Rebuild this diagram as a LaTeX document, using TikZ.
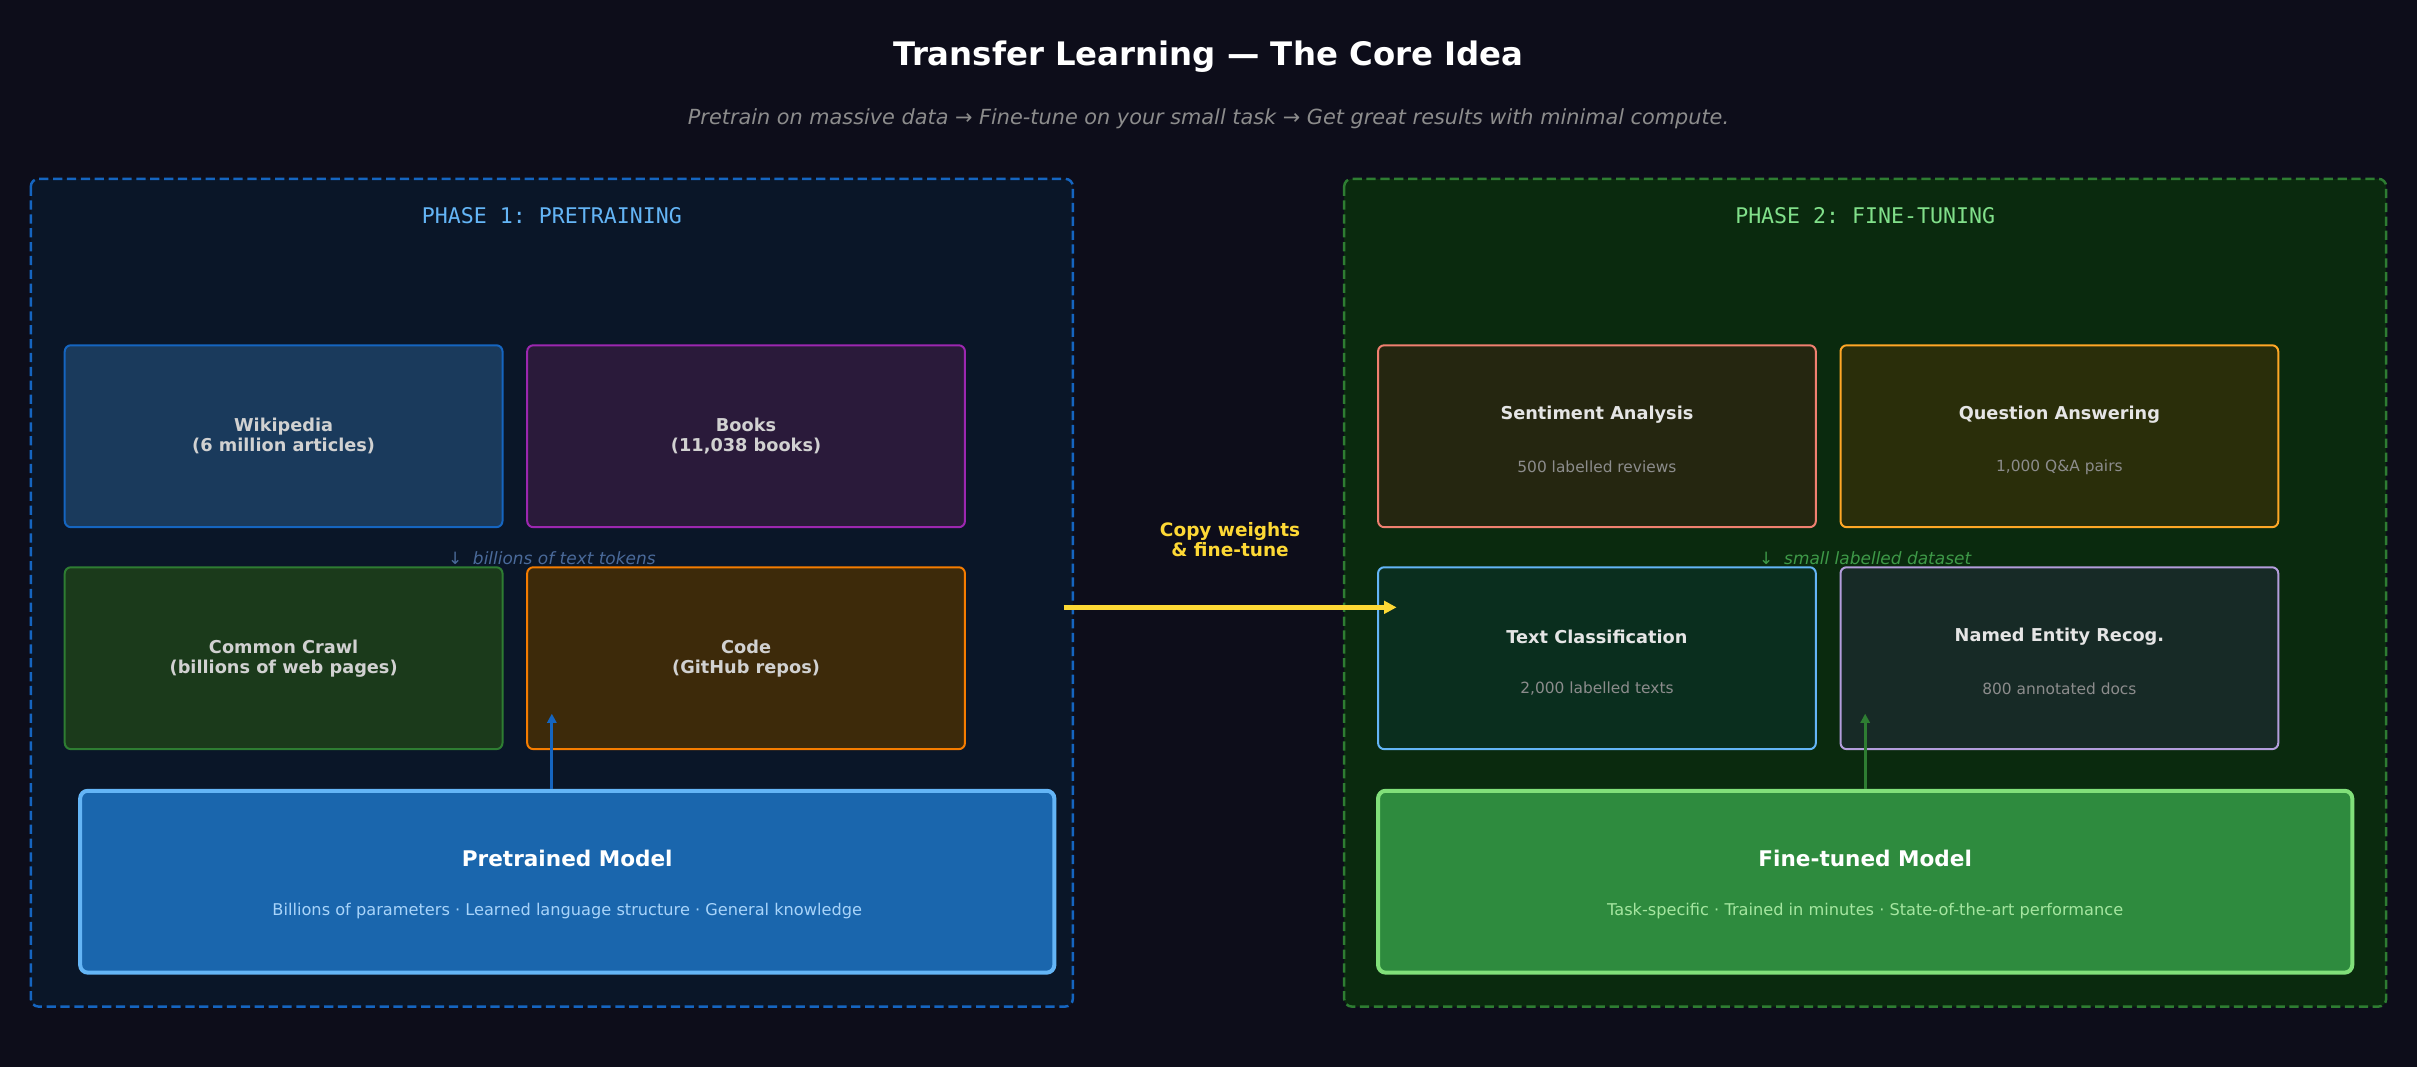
\documentclass[tikz,border=0pt]{standalone}
\usepackage{fontspec}
\setmainfont{DejaVu Sans}
\setmonofont{DejaVu Sans Mono}
\usetikzlibrary{arrows.meta}
\definecolor{bg}{HTML}{0D0D1A}
\definecolor{pfill}{HTML}{0A1628}
\definecolor{gfill}{HTML}{0A2A0E}
\definecolor{pblue}{HTML}{1565C0}
\definecolor{wikifill}{HTML}{1A3A5C}
\tikzset{every picture/.style={line width=0.75pt}}
\tikzset{
  panel/.style={draw, line width=1.6pt, rounded corners=5pt, dash pattern=on 6pt off 3pt},
  src/.style={draw, line width=1.3pt, rounded corners=4pt, minimum width=284pt, minimum height=118pt, align=center, text=black!18, font=\bfseries\fontsize{11.5}{13}\selectfont},
  model/.style={draw, line width=2.6pt, rounded corners=5pt, minimum width=632pt, minimum height=118pt},
  ttl/.style={font=\bfseries\fontsize{11.5}{13}\selectfont, text=black!10},
  sub/.style={font=\fontsize{10}{12}\selectfont, text=black!45},
}
\begin{document}
\begin{tikzpicture}[x=1pt,y=1pt,yscale=-1]
\useasboundingbox[fill=bg] (0,0) rectangle (1568,692);

% Title
\node (title) at (784,37) {\color{white}\bfseries\fontsize{21}{24}\selectfont Transfer Learning — The Core Idea};
\node (subtitle) at (784,77) {\color{black!45}\itshape\fontsize{13.5}{16}\selectfont Pretrain on massive data → Fine-tune on your small task → Get great results with minimal compute.};

% Phase 1
\draw[panel, draw=pblue, fill=pfill] (20,116) rectangle (696,653);
\node (p1title) at (358,140) {\color[HTML]{64B5F6}\ttfamily\fontsize{14}{16}\selectfont PHASE 1: PRETRAINING};
\node[src, draw=pblue, fill=wikifill] (wiki) at (184,283) {Wikipedia\\(6 million articles)};
\node[src, draw={rgb,255:red,156;green,39;blue,176}, fill={rgb,255:red,42;green,26;blue,58}] (books) at (484,283) {Books\\(11,038 books)};
\node[src, draw={rgb,255:red,46;green,125;blue,50}, fill={rgb,255:red,27;green,58;blue,27}] (crawl) at (184,427) {Common Crawl\\(billions of web pages)};
\node[src, draw={rgb,255:red,245;green,124;blue,0}, fill={rgb,255:red,61;green,42;blue,10}] (code) at (484,427) {Code\\(GitHub repos)};
\node (tokens) at (358,362) {\color[HTML]{4A6A9A}\itshape\fontsize{11}{13}\selectfont ↓\ \ billions of text tokens};
\node[model, draw={rgb,255:red,100;green,181;blue,246}, fill={rgb,255:red,26;green,102;blue,173}] (pretrained) at (368,572) {};
\node (pretitle) at (368,557) {\color{white}\bfseries\fontsize{14}{16}\selectfont Pretrained Model};
\node (presub) at (368,591) {\color[HTML]{A8D4FA}\fontsize{10.5}{12}\selectfont Billions of parameters · Learned language structure · General knowledge};
\coordinate (uptip1) at (358,463);
\draw[-{Triangle[length=6pt,width=6pt]}, line width=2pt, draw=pblue] (pretrained.north -| uptip1) -- (uptip1);

% Phase 2
\draw[panel, draw={rgb,255:red,46;green,125;blue,50}, fill=gfill] (872,116) rectangle (1548,653);
\node (p2title) at (1210,140) {\color[HTML]{81E08A}\ttfamily\fontsize{14}{16}\selectfont PHASE 2: FINE-TUNING};
\node[src, draw={rgb,255:red,240;green,128;blue,112}, fill={rgb,255:red,37;green,38;blue,16}] (senti) at (1036,283) {};
\node[ttl] (sentit) at (1036,269) {Sentiment Analysis};
\node[sub] (sentis) at (1036,303) {500 labelled reviews};
\node[src, draw={rgb,255:red,255;green,167;blue,38}, fill={rgb,255:red,42;green,46;blue,10}] (qa) at (1336,283) {};
\node[ttl] (qat) at (1336,269) {Question Answering};
\node[sub] (qas) at (1336,303) {1,000 Q\&A pairs};
\node[src, draw={rgb,255:red,100;green,181;blue,246}, fill={rgb,255:red,10;green,46;blue,30}] (textcls) at (1036,427) {};
\node[ttl] (textclst) at (1036,413) {Text Classification};
\node[sub] (textclss) at (1036,447) {2,000 labelled texts};
\node[src, draw={rgb,255:red,179;green,157;blue,219}, fill={rgb,255:red,23;green,42;blue,38}] (ner) at (1336,427) {};
\node[ttl] (nert) at (1336,413) {Named Entity Recog.};
\node[sub] (ners) at (1336,447) {800 annotated docs};
\node (dataset) at (1210,362) {\color[HTML]{3E9A48}\itshape\fontsize{11}{13}\selectfont ↓\ \ small labelled dataset};
\node[model, draw={rgb,255:red,129;green,224;blue,122}, fill={rgb,255:red,46;green,139;blue,62}] (finetuned) at (1210,572) {};
\node (fttitle) at (1210,557) {\color{white}\bfseries\fontsize{14}{16}\selectfont Fine-tuned Model};
\node (ftsub) at (1210,591) {\color[HTML]{A5E6A0}\fontsize{10.5}{12}\selectfont Task-specific · Trained in minutes · State-of-the-art performance};
\coordinate (uptip2) at (1210,463);
\draw[-{Triangle[length=6pt,width=6pt]}, line width=2pt, draw={rgb,255:red,46;green,125;blue,50}] (finetuned.north -| uptip2) -- (uptip2);

% Transfer arrow
\coordinate (copyfrom) at (690,394);
\coordinate (copyto) at (906,394);
\draw[-{Triangle[length=8pt,width=8pt]}, line width=3pt, draw={rgb,255:red,253;green,216;blue,53}] (copyfrom) -- (copyto);
\node[align=center, font=\bfseries\fontsize{12}{13}\selectfont, text={rgb,255:red,253;green,216;blue,53}] (copylbl) at (798,350) {Copy weights\\\& fine-tune};
\end{tikzpicture}
\end{document}
